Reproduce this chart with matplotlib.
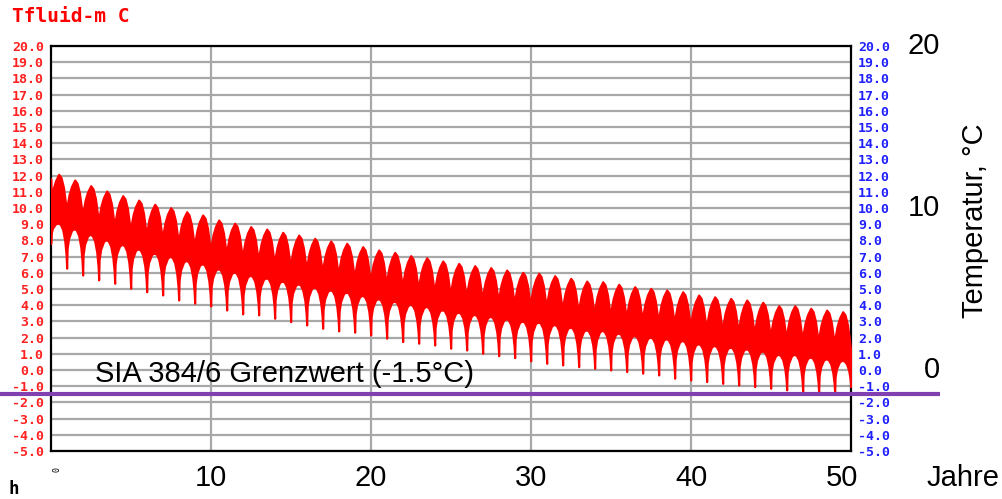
import numpy as np
import matplotlib
matplotlib.use("Agg")
import matplotlib.pyplot as plt
import matplotlib.transforms as mtransforms

# ---------------- data ----------------
# yearly summer peak of the fluid temperature (year 0 .. 49)
peak_temp = [12.08, 11.73, 11.38, 11.05, 10.76, 10.49, 10.23, 10.02, 9.77, 9.57,
             9.26, 9.06, 8.85, 8.70, 8.50, 8.33, 8.13, 7.96, 7.82, 7.61,
             7.41, 7.26, 7.06, 6.93, 6.73, 6.58, 6.44, 6.32, 6.17, 6.03,
             5.97, 5.82, 5.66, 5.49, 5.45, 5.29, 5.14, 5.04, 4.94, 4.83,
             4.63, 4.52, 4.42, 4.32, 4.18, 3.97, 3.97, 3.81, 3.70, 3.60]
# winter minimum reached at the end of each year (year 0 .. 49)
dip_temp = [6.28, 5.86, 5.56, 5.35, 5.04, 4.83, 4.63, 4.32, 4.12, 3.95,
            3.70, 3.46, 3.40, 3.19, 2.98, 2.78, 2.57, 2.41, 2.33, 2.16,
            1.96, 1.75, 1.65, 1.54, 1.34, 1.23, 1.03, 0.88, 0.76, 0.56,
            0.41, 0.31, 0.20, 0.10, 0.00, -0.10, -0.20, -0.31, -0.51, -0.62,
            -0.72, -0.83, -0.93, -1.03, -1.13, -1.23, -1.34, -1.44, -1.44, -1.03]
start_low = 7.8          # lower band value at simulation start
start_high = 11.8        # upper band value at simulation start
limit_value = -1.5       # SIA 384/6 limit
limit_label = "SIA 384/6 Grenzwert (-1.5°C)"
y_ticks = np.arange(-5, 21, 1)
x_grid = [10, 20, 30, 40]
x_labels = [10, 20, 30, 40, 50]
right_big = [0, 10, 20]

# shape of one year's band (phase 0 = previous dip, 1 = next dip)
up_phase = [0.0, 0.04, 0.15, 0.30, 0.50, 0.65, 0.80, 0.92, 1.0]
up_rel = [-2.4, -1.5, -0.9, -0.4, 0.0, -0.2, -0.8, -1.7, -2.4]
band_depth = 3.0   # lower edge of the band below the peak in mid-summer
lo_phase = [0.0, 0.03, 0.12, 0.30, 0.45, 0.60, 0.75, 0.88, 0.96, 1.0]
lo_frac = [0.0, 0.50, 0.75, 0.95, 1.0, 0.97, 0.85, 0.60, 0.30, 0.0]

# ---------------- build band ----------------
xs, lows, highs = [], [], []
grid = np.array(sorted(set(up_phase) | set(lo_phase)))
for k, (M, m) in enumerate(zip(peak_temp, dip_temp)):
    prev = start_low if k == 0 else dip_temp[k - 1]
    up = np.interp(grid, up_phase, M + np.array(up_rel))
    if k == 0:
        up[0] = start_high
    base = M - band_depth
    lv = []
    for p, f in zip(lo_phase, lo_frac):
        d = prev if p <= 0.45 else m
        lv.append(d + f * (base - d))
    lo = np.interp(grid, lo_phase, lv)
    lo = np.minimum(lo, up)
    xs.append(k - 0.02 + grid)
    lows.append(lo)
    highs.append(up)
xs = np.concatenate(xs)
lows = np.concatenate(lows)
highs = np.concatenate(highs)

# ---------------- figure ----------------
W, H = 1002, 499
fig = plt.figure(figsize=(W / 100, H / 100), dpi=100)
ax = fig.add_axes([51 / W, 48 / H, 800 / W, 405 / H])
ax.set_xlim(0, 50)
ax.set_ylim(-5, 20)

ax.fill_between(xs, lows, highs, color="#ff0000", linewidth=1.5, edgecolor="#ff0000", zorder=3)

ax.set_yticks(y_ticks)
ax.set_xticks(x_grid)
ax.grid(True, color="#a8a8a8", linewidth=1.6, zorder=1)
ax.set_axisbelow(True)
for s in ax.spines.values():
    s.set_color("#000000")
    s.set_linewidth(1.6)
ax.tick_params(length=0)
ax.set_xticklabels([])
mono = "DejaVu Sans Mono"
ax.set_yticklabels([f"{v:.1f}" for v in y_ticks], color="#ff2020",
                   fontfamily=mono, fontweight="bold", fontsize=9.5)
ax.tick_params(axis="y", pad=5)

ax2 = ax.twinx()
ax2.set_ylim(-5, 20)
ax2.set_yticks(y_ticks)
ax2.set_yticklabels([f"{v:.1f}" for v in y_ticks], color="#2020ff",
                    fontfamily=mono, fontweight="bold", fontsize=9.5)
ax2.tick_params(length=0, pad=5)
for s in ax2.spines.values():
    s.set_visible(False)

# title and small labels
fig.text(12 / W, 1 - 17 / H, "Tfluid-m C", color="#ff0000", fontfamily=mono,
         fontweight="bold", fontsize=14, va="center", ha="left")
fig.text(9 / W, 1 - 494 / H, "h", color="#000000", fontfamily=mono,
         fontweight="bold", fontsize=12.5, va="baseline", ha="left")
bx = mtransforms.blended_transform_factory(ax.transData, fig.transFigure)
ax.text(0.35, 1 - 469 / H, "0", transform=bx, rotation=90, fontsize=6,
        fontfamily=mono, ha="center", va="center", color="#000000")

big = "Liberation Sans"
for xv in x_labels:
    ax.text(xv - (0.55 if xv == 50 else 0.0), 1 - 486 / H, str(xv), transform=bx,
            fontsize=21, fontfamily=big, ha="center", va="baseline", clip_on=False)
fig.text(927 / W, 1 - 486 / H, "Jahre", fontsize=21, fontfamily=big,
         ha="left", va="baseline")

by = mtransforms.blended_transform_factory(fig.transFigure, ax.transData)
for yv in right_big:
    ax.text(940 / W, yv, str(yv), transform=by, fontsize=21, fontfamily=big,
            ha="right", va="center", clip_on=False)
fig.text(975 / W, 1 - 221 / H, "Temperatur, °C", fontsize=21, fontfamily=big,
         rotation=90, ha="center", va="center")

# limit line across the whole figure
ax.plot([0, 940 / W], [limit_value, limit_value], transform=by, color="#8040b0",
        linewidth=3, clip_on=False, zorder=5, solid_capstyle="butt")
fig.text(95 / W, 1 - 382 / H, limit_label, fontsize=21, fontfamily=big,
         ha="left", va="baseline")

fig.savefig("out.png", dpi=100, facecolor="white")
